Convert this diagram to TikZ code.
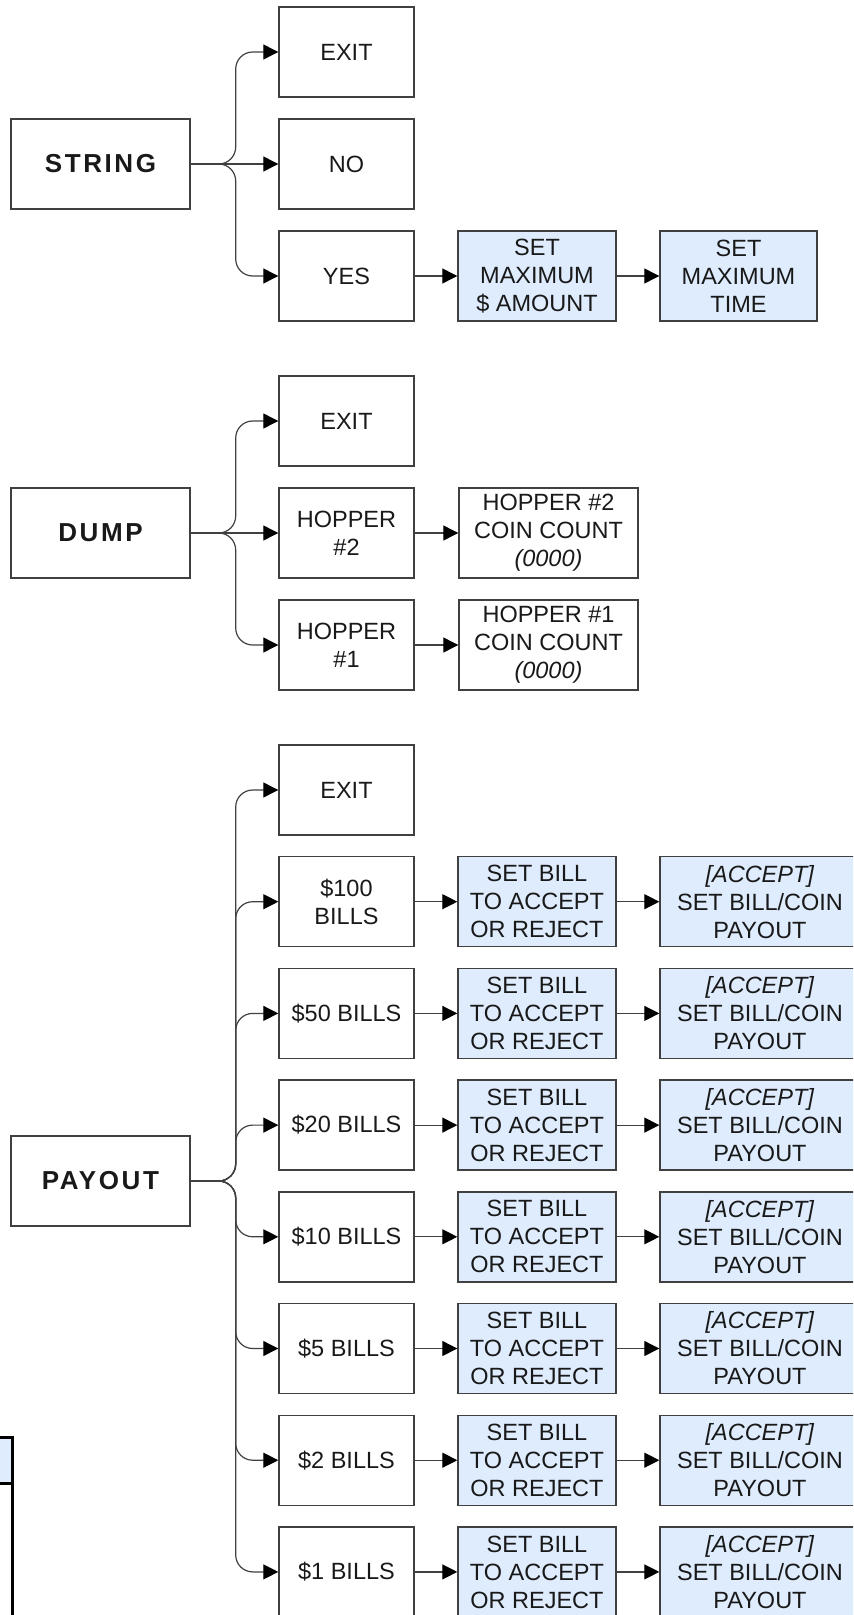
\documentclass[tikz,border=0pt]{standalone}
\usepackage{fontspec}
\setmainfont{Liberation Sans}
\usetikzlibrary{arrows.meta}

\definecolor{boxblue}{RGB}{222,236,253}
\definecolor{boxline}{RGB}{64,64,64}

\begin{document}
\begin{tikzpicture}[x = 0.5pt, y = -0.5pt, > = {Triangle[length = 7.5pt, width = 7.5pt, black]},
	box/.style = {draw = boxline, line width = 0.7pt, minimum height = 45pt, align = center, inner sep = 1pt, text = black!90, font = \fontsize{11.75}{14}\selectfont},
	menu/.style = {box, minimum width = 89.5pt, font = \fontsize{13}{15}\selectfont\bfseries\addfontfeatures{LetterSpace = 10}},
	choice/.style = {box, minimum width = 67.5pt},
	setting/.style = {box, fill = boxblue, minimum width = 79pt},
	link/.style = {->, draw = boxline, line width = 0.6pt, rounded corners = 8.5pt}]

	\useasboundingbox (0, 0) rectangle (853, 1615);
	\clip (0, 0) rectangle (853, 1615);

	% String menu

	\node [menu] (string) at (100.5, 164) {STRING};
	\node [choice] (string-exit) at (346.5, 52) {EXIT};
	\node [choice] (string-no) at (346.5, 164) {NO};
	\node [choice] (string-yes) at (346.5, 276) {YES};
	\node [setting] (max-amount) at (537, 276) {SET\\MAXIMUM\\\$ AMOUNT};
	\node [setting, minimum width = 78.5pt] (max-time) at (738.5, 276) {SET\\MAXIMUM\\TIME};

	\draw [link] (string.east) -- ++(45, 0) |- (string-exit.west);
	\draw [link] (string.east) -- (string-no.west);
	\draw [link] (string.east) -- ++(45, 0) |- (string-yes.west);
	\draw [link] (string-yes) -- (max-amount);
	\draw [link] (max-amount) -- (max-time);

	% Dump menu

	\node [menu] (dump) at (100.5, 533) {DUMP};
	\node [choice] (dump-exit) at (346.5, 421) {EXIT};
	\node [choice] (hopper-2) at (346.5, 533) {HOPPER\\\#2};
	\node [choice] (hopper-1) at (346.5, 645) {HOPPER\\\#1};
	\node [box, minimum width = 89.5pt] (count-2) at (548.5, 533) {HOPPER \#2\\COIN COUNT\\\textit{(0000)}};
	\node [box, minimum width = 89.5pt] (count-1) at (548.5, 645) {HOPPER \#1\\COIN COUNT\\\textit{(0000)}};

	\draw [link] (dump.east) -- ++(45, 0) |- (dump-exit.west);
	\draw [link] (dump.east) -- (hopper-2.west);
	\draw [link] (dump.east) -- ++(45, 0) |- (hopper-1.west);
	\draw [link] (hopper-2) -- (count-2);
	\draw [link] (hopper-1) -- (count-1);

	% Payout menu

	\node [menu] (payout) at (100.5, 1181) {PAYOUT};
	\node [choice] (payout-exit) at (346.5, 790) {EXIT};
	\draw [link] (payout.east) -- ++(45, 0) |- (payout-exit.west);

	\foreach \bill [count = \i] in {{\$100\\BILLS}, \$50 BILLS, \$20 BILLS, \$10 BILLS, \$5 BILLS, \$2 BILLS, \$1 BILLS} {
		\node [choice] (bill-\i) at (346.5, {790 + 111.7 * \i}) {\bill};
		\node [setting] (accept-\i) at (537, {790 + 111.7 * \i}) {SET BILL\\TO ACCEPT\\OR REJECT};
		\node [setting, minimum width = 100pt] (coin-\i) at (760, {790 + 111.7 * \i}) {\textit{[ACCEPT]}\\SET BILL/COIN\\PAYOUT};
		\draw [link] (payout.east) -- ++(45, 0) |- (bill-\i.west);
		\draw [link] (bill-\i) -- (accept-\i);
		\draw [link] (accept-\i) -- (coin-\i);
	}

	% Edge of a table, cut off

	\fill [boxblue] (-20, 1437) rectangle (12, 1483);
	\draw [line width = 1.5pt] (-20, 1437) -| (12, 1640);
	\draw [line width = 1.5pt] (-20, 1483) -- (12, 1483);

\end{tikzpicture}
\end{document}
